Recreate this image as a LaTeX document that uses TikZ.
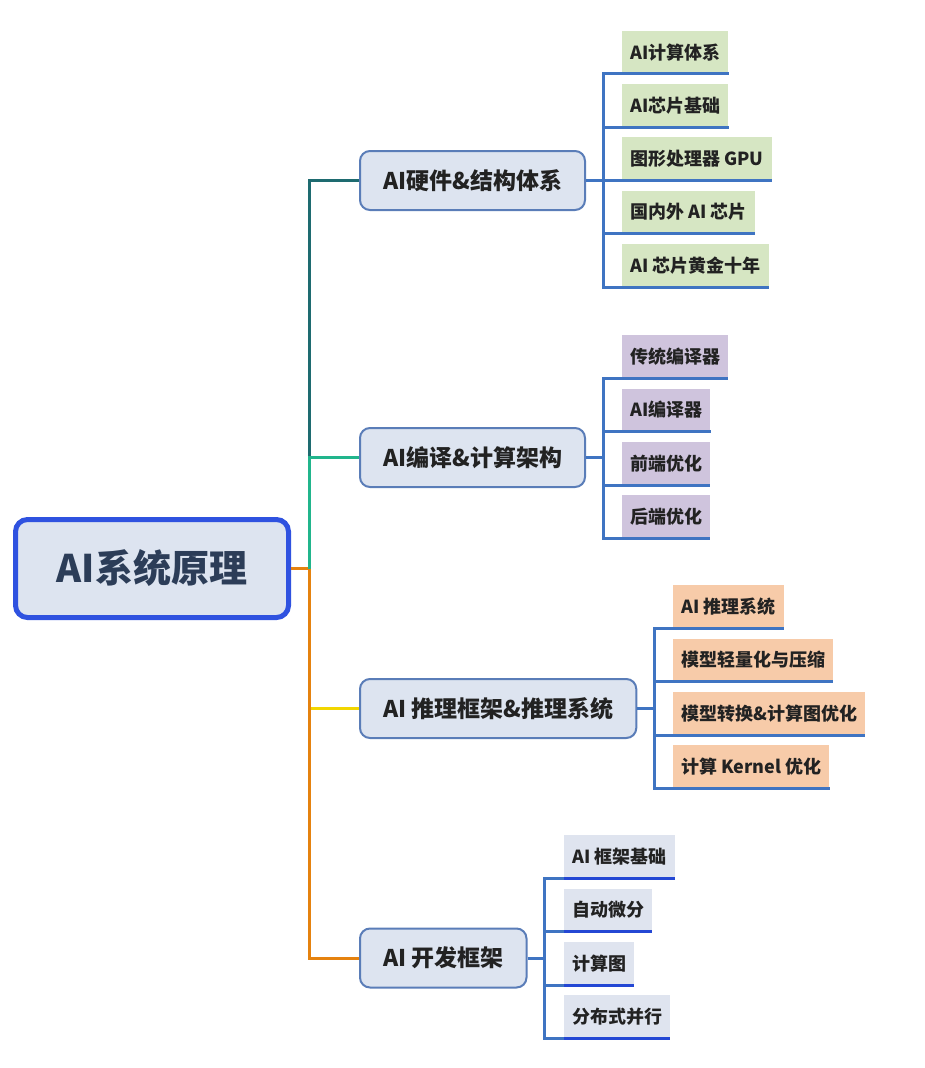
\documentclass[tikz,border=0pt]{standalone}
\usepackage{fontspec}
\setmainfont{Noto Sans CJK SC}
\usetikzlibrary{matrix}

\definecolor{nodefill}{HTML}{DDE4F0}
\definecolor{rootblue}{HTML}{2F52E0}
\definecolor{roottext}{HTML}{2C3D58}
\definecolor{topicblue}{HTML}{5A7DB8}
\definecolor{inktext}{HTML}{222222}
\definecolor{twigblue}{HTML}{3F74C2}
\definecolor{lineblue}{HTML}{2447D4}
\definecolor{leafgreen}{HTML}{D6E6C3}
\definecolor{leafpurple}{HTML}{CFC4DD}
\definecolor{leafpeach}{HTML}{F7CBA9}
\definecolor{leafgrey}{HTML}{DFE4EF}
\definecolor{branchteal}{HTML}{1E6B70}
\definecolor{branchgreen}{HTML}{21B58C}
\definecolor{branchyellow}{HTML}{F2D600}
\definecolor{branchorange}{HTML}{E5820F}

\begin{document}
\begin{tikzpicture}[x=1pt, y=-1pt,
  root/.style={draw=rootblue, line width=5pt, fill=nodefill, rounded corners=12pt,
    minimum width=273pt, minimum height=98pt, text=roottext,
    font=\bfseries\fontsize{38}{40}\selectfont},
  topic/.style={draw=topicblue, line width=2pt, fill=nodefill, rounded corners=10pt,
    anchor=west, minimum height=59pt, inner xsep=23pt, text=inktext,
    font=\bfseries\fontsize{23}{26}\selectfont},
  leaf/.style={anchor=west, minimum height=43pt, inner xsep=8pt, inner ysep=0pt,
    text=inktext, font=\bfseries\fontsize{18}{20}\selectfont},
  leafgroup/.style={matrix of nodes, anchor=north west, inner sep=0pt,
    row sep=10.3pt, nodes={leaf, fill=#1}},
  branch/.style={line width=3pt, draw=#1},
  twig/.style={line width=3pt, draw=twigblue}]
\useasboundingbox (0,0) rectangle (925,1068);

\node[root] (root) at (152,568.5) {AI系统原理};

\node[topic] (hw) at (359,180.5) {AI硬件\&结构体系};
\node[topic] (comp) at (359,457.5) {AI编译\&计算架构};
\node[topic] (infer) at (359,708.5) {AI 推理框架\&推理系统};
\node[topic] (frame) at (359,958) {AI 开发框架};

% leaves
\matrix (hw-leaf) [leafgroup=leafgreen] at (622,30.5)
{
	AI计算体系 \\
	AI芯片基础 \\
	图形处理器 GPU \\
	国内外 AI 芯片 \\
	AI 芯片黄金十年 \\
};
\matrix (comp-leaf) [leafgroup=leafpurple] at (622,335)
{
	传统编译器 \\
	AI编译器 \\
	前端优化 \\
	后端优化 \\
};
\matrix (infer-leaf) [leafgroup=leafpeach] at (673,585)
{
	AI 推理系统 \\
	模型轻量化与压缩 \\
	模型转换\&计算图优化 \\
	计算 Kernel 优化 \\
};
\matrix (frame-leaf) [leafgroup=leafgrey] at (564,835)
{
	AI 框架基础 \\
	自动微分 \\
	计算图 \\
	分布式并行 \\
};

% branches
\draw[branch=branchorange] (root.east) -- ++(18,0) coordinate (hub);
\foreach \t/\c in {hw/branchteal, comp/branchgreen, infer/branchyellow, frame/branchorange}
	\draw[branch=\c] (hub) |- (\t.west);

\foreach \t/\n/\c in {hw/5/twigblue, comp/4/twigblue, infer/4/twigblue, frame/4/lineblue} {
	\draw[twig] (\t.east) -- ++(17,0) coordinate (\t-hub);
	\foreach \i in {1,...,\n} {
		\draw[twig] (\t-hub) |- (\t-leaf-\i-1.south west);
		\draw[line width=3pt, draw=\c] (\t-leaf-\i-1.south west) -- (\t-leaf-\i-1.south east);
	}
}
\end{tikzpicture}
\end{document}
